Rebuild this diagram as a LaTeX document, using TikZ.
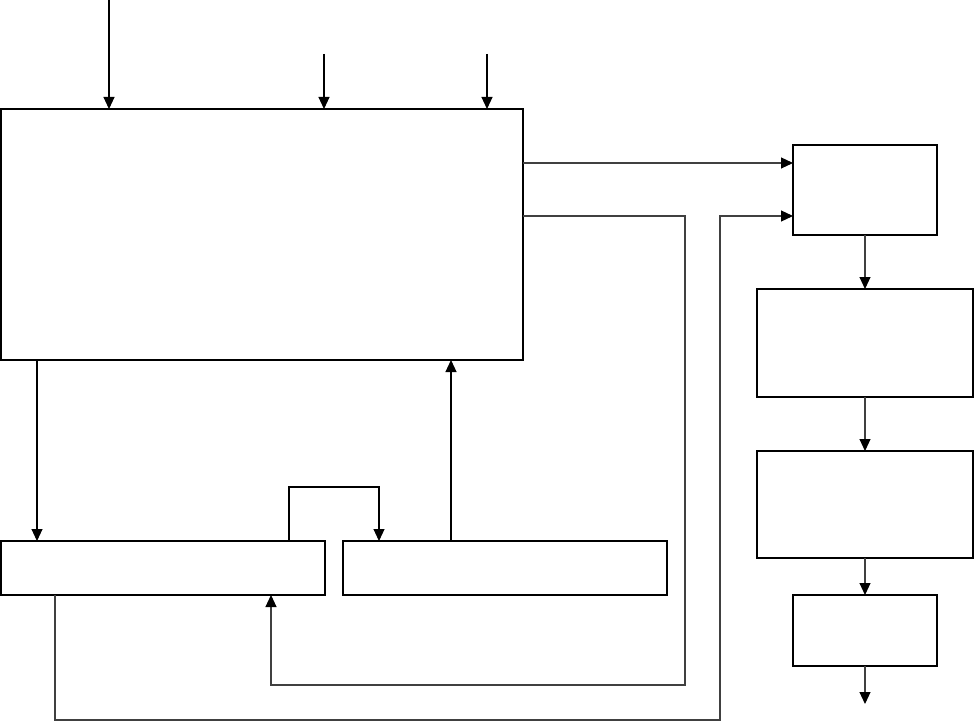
\documentclass[tikz,border=0pt]{standalone}
\usetikzlibrary{arrows.meta}
\begin{document}
\begin{tikzpicture}[x=1pt,y=-1pt,
  box/.style={draw=black,line width=1.6pt,fill=white,inner sep=0pt,outer sep=0pt},
  arr/.style={draw=black!75,line width=1.1pt,-{Triangle[length=12pt,width=11pt,color=black]}},
  ln/.style={draw=black!80,line width=1.1pt}]
\useasboundingbox (0,0) rectangle (974,722);
% boxes
\node[box,minimum width=522pt,minimum height=251pt] (main) at (262,234.5) {};
\node[box,minimum width=144pt,minimum height=90pt] (a) at (865,190) {};
\node[box,minimum width=216pt,minimum height=108pt] (b) at (865,343) {};
\node[box,minimum width=216pt,minimum height=107pt] (c) at (865,504.5) {};
\node[box,minimum width=144pt,minimum height=71pt] (d) at (865,630.5) {};
\node[box,minimum width=324pt,minimum height=54pt] (l) at (163,568) {};
\node[box,minimum width=324pt,minimum height=54pt] (m) at (505,568) {};
% free ends
\coordinate (t1) at (109,0);
\coordinate (t2) at (324,54);
\coordinate (t3) at (487,54);
\coordinate (out) at (865,704);
% top inputs
\draw[arr,draw=black] (t1) -- (t1 |- main.north);
\draw[arr,draw=black] (t2) -- (t2 |- main.north);
\draw[arr,draw=black] (t3) -- (t3 |- main.north);
% main to a
\coordinate (y1) at (0,163);
\coordinate (y2) at (0,216);
\draw[arr] (main.east |- y1) -- (a.west |- y1);
% main to l (loop)
\coordinate (x685) at (685,685);
\coordinate (x271) at (271,0);
\draw[arr] (main.east |- y2) -- (x685 |- y2) -- (x685) -- (x271 |- x685) -- (x271 |- l.south);
% right column
\draw[arr] (a.south) -- (b.north);
\draw[arr] (b.south) -- (c.north);
\draw[arr] (c.south) -- (d.north);
\draw[arr] (d.south) -- (out);
% main to l
\coordinate (x37) at (37,0);
\draw[arr,draw=black] (x37 |- main.south) -- (x37 |- l.north);
% l to m
\coordinate (x289) at (289,487);
\coordinate (x379) at (379,487);
\draw[arr,draw=black] (x289 |- l.north) -- (x289) -- (x379) -- (x379 |- m.north);
% m to main
\coordinate (x451) at (451,0);
\draw[arr,draw=black] (x451 |- m.north) -- (x451 |- main.south);
% l to a (long loop)
\coordinate (x55) at (55,720);
\coordinate (x720) at (720,720);
\draw[arr] (x55 |- l.south) -- (x55) -- (x720) -- (x720 |- y2) -- (a.west |- y2);
\end{tikzpicture}
\end{document}
